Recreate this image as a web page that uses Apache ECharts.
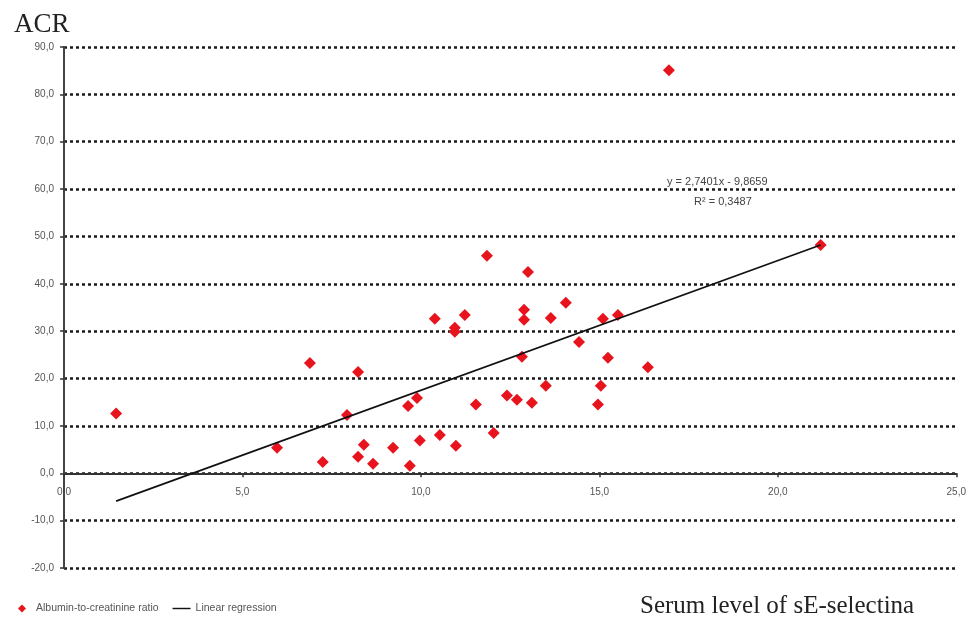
<!DOCTYPE html>
<html>
<head>
<meta charset="utf-8">
<script src="https://cdn.jsdelivr.net/npm/echarts@6/dist/echarts.min.js"></script>
<style>
  html, body { margin: 0; padding: 0; background: #fff; }
  #acrChart { width: 969px; height: 622px; }
</style>
</head>
<body>
<div id="acrChart"></div>
<script type="text/javascript">
// sE-selectina level (x) and ACR (y)
var selectinaLevel = [1.46, 5.97, 6.89, 7.25, 7.93, 8.24, 8.24, 8.40, 8.66, 9.22,
	9.69, 9.64, 9.89, 9.97, 10.39, 10.53, 10.95, 10.95, 10.98, 11.23,
	11.54, 11.85, 12.04, 12.41, 12.69, 12.83, 12.89, 12.89, 13.00, 13.11,
	13.50, 13.64, 14.06, 14.43, 14.96, 15.04, 15.10, 15.24, 15.52, 16.36,
	16.95, 21.20];
var acrValue = [12.6, 5.4, 23.3, 2.4, 12.3, 21.4, 3.5, 6.0, 2.0, 5.4,
	1.6, 14.2, 15.9, 6.9, 32.6, 8.1, 30.7, 29.9, 5.8, 33.4,
	14.5, 45.9, 8.5, 16.4, 15.5, 24.6, 34.5, 32.4, 42.5, 14.9,
	18.5, 32.8, 36.0, 27.7, 14.5, 18.5, 32.6, 24.4, 33.4, 22.4,
	85.1, 48.2];
// ends of the regression line
var trendX = [1.46, 21.2];
var trendY = [-5.9, 48.2];
var equationText = ['y = 2,7401x - 9,8659', 'R\u00b2 = 0,3487'];

var yMin = -20, yMax = 90;
var gridTop = 47, gridBottom = 54, chartH = 622;

var myChart = echarts.init(document.getElementById('acrChart'));

var points = selectinaLevel.map(function (x, i) { return [x, acrValue[i]]; });
var trend = trendX.map(function (x, i) { return [x, trendY[i]]; });

function comma(v) { return v.toFixed(1).replace('.', ','); }

// x axis sits on y = 0, move it (with its labels) up from the grid bottom
var plotH = chartH - gridTop - gridBottom;
var xOffset = -plotH * (0 - yMin) / (yMax - yMin);

var option = {
	animation: false,
	textStyle: { fontFamily: 'Liberation Sans' },
	title: {
		text: 'ACR', left: 9, top: 6,
		textStyle: { fontFamily: 'Liberation Serif', fontSize: 27, fontWeight: 'normal', color: '#222' }
	},
	legend: {
		left: 13, top: 598, itemWidth: 18, itemHeight: 8, itemGap: 14,
		textStyle: { fontSize: 10.5, color: '#555' },
		data: [
			{ name: 'Albumin-to-creatinine ratio', icon: 'path://M5 0 L10 5 L5 10 L0 5 Z' },
			{ name: 'Linear regression', icon: 'path://M0 0 H20 V1.6 H0 Z' }
		]
	},
	grid: { left: 64, right: 12, top: gridTop, bottom: gridBottom },
	xAxis: {
		type: 'value', min: 0, max: 25, interval: 5,
		offset: xOffset,
		axisLine: { onZero: false, lineStyle: { color: '#333', width: 2 } },
		axisTick: { show: true, length: 4, lineStyle: { color: '#333', width: 1.5 } },
		axisLabel: { formatter: comma, fontSize: 10, color: '#555', margin: 14 },
		splitLine: { show: false }
	},
	yAxis: {
		type: 'value', min: yMin, max: yMax, interval: 10,
		axisLine: { show: true, onZero: false, lineStyle: { color: '#444', width: 2 } },
		axisTick: { show: true, length: 4, lineStyle: { color: '#333', width: 1.5 } },
		axisLabel: { formatter: comma, fontSize: 10, color: '#555', margin: 10 },
		splitLine: { show: true, lineStyle: { color: '#1a1a1a', width: 2.5, type: [3, 3] } }
	},
	graphic: [
		{ type: 'text', left: 667, top: 176, style: { text: equationText[0], fontSize: 11, fill: '#444', fontFamily: 'Liberation Sans' } },
		{ type: 'text', left: 694, top: 196, style: { text: equationText[1], fontSize: 11, fill: '#444', fontFamily: 'Liberation Sans' } },
		{ type: 'text', left: 640, top: 594, style: { text: 'Serum level of sE-selectina', fontSize: 25, fill: '#222', fontFamily: 'Liberation Serif' } }
	],
	series: [{
		name: 'Albumin-to-creatinine ratio',
		type: 'scatter',
		symbol: 'diamond',
		symbolSize: 12,
		itemStyle: { color: '#e8141d', opacity: 1 },
		data: points,
		z: 3
	}, {
		name: 'Linear regression',
		type: 'line',
		showSymbol: false,
		symbol: 'none',
		color: '#111',
		itemStyle: { color: '#111' },
		lineStyle: { color: '#111', width: 1.8 },
		data: trend,
		z: 4
	}]
};
myChart.setOption(option);
</script>
</body>
</html>
